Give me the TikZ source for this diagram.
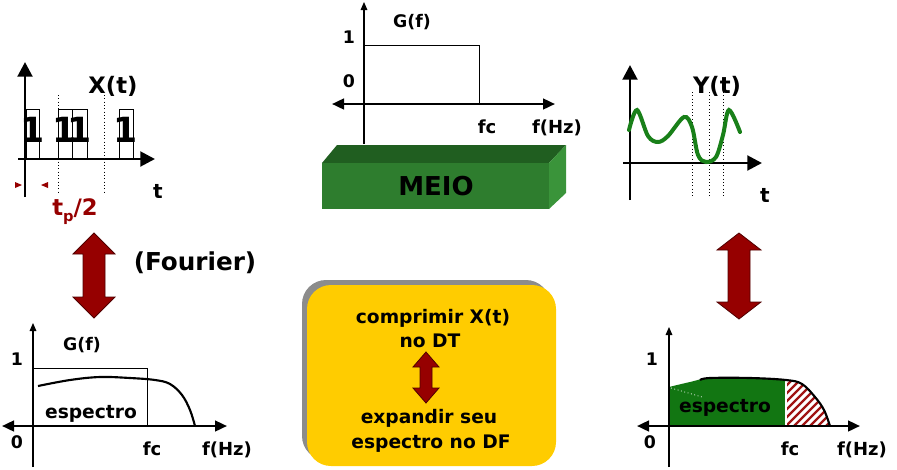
\documentclass[tikz,border=0pt]{standalone}
\usepackage{fontspec}
\setmainfont{DejaVu Sans}
\usetikzlibrary{arrows.meta}
\definecolor{dred}{RGB}{150,0,0}
\definecolor{dredb}{RGB}{80,0,0}
\definecolor{meiofront}{RGB}{46,125,46}
\definecolor{meiotop}{RGB}{32,94,32}
\definecolor{meioside}{RGB}{58,148,58}
\definecolor{curvegreen}{RGB}{25,128,25}
\definecolor{specgreen}{RGB}{18,118,18}
\definecolor{boxyellow}{RGB}{255,204,0}
\definecolor{shadowgray}{RGB}{140,140,140}
\definecolor{hatchred}{RGB}{160,20,20}
\begin{document}
\begin{tikzpicture}[x=0.75pt,y=-0.75pt,
  txt/.style={font=\bfseries\fontsize{#1}{#1}\selectfont, inner sep=0pt, anchor=base},
  thickax/.style={line width=2.2pt, -{Triangle[length=11pt,width=11pt]}},
  medax/.style={line width=1.8pt, {Triangle[length=9pt,width=8pt]}-{Triangle[length=9pt,width=8pt]}},
  thinax/.style={line width=0.8pt, -{Triangle[length=6pt,width=5pt]}},
  thinbox/.style={draw=black, line width=0.6pt},
  dotline/.style={line width=0.5pt, dotted},
  bigarrow/.style={fill=dred, draw=dredb, line width=0.6pt},
  redtri/.style={fill=dred, draw=none}
]
\useasboundingbox (0,0) rectangle (897,469);

% ---------- X(t) panel ----------
\coordinate (xo1) at (25,197); \coordinate (xo2) at (25,62);
\coordinate (xh1) at (18,159); \coordinate (xh2) at (155,159);
\draw[dotline] (58,95) -- (58,193);
\draw[dotline] (104,95) -- (104,193);
\draw[thinbox] (26,109) rectangle (39,159);
\draw[thinbox] (58,109) rectangle (72,159);
\draw[thinbox] (72,109) rectangle (87,159);
\draw[thinbox] (119,109) rectangle (133,159);
\node[txt=26] (one1) at (32.5,142) {1};
\node[txt=26] (one2) at (65,142) {1};
\node[txt=26] (one3) at (79.5,142) {1};
\node[txt=26] (one4) at (126,142) {1};
\draw[thickax] (xo1) -- (xo2);
\draw[thickax] (xh1) -- (xh2);
\node[txt=17] (xt) at (113,93) {X(t)};
\node[txt=15] (xtt) at (158,198) {t};
\fill[redtri] (15,182) -- (22,185) -- (15,188) -- cycle;
\fill[redtri] (48,182) -- (41,185) -- (48,188) -- cycle;
\node[txt=17, text=dred] (tp) at (75,215) {t\raisebox{-0.3em}{\fontsize{11}{11}\selectfont p}/2};

% ---------- G(f) top ----------
\draw[thinax] (364,144) -- (364,2);
\draw[medax] (332,104) -- (555,104);
\draw[thinbox] (364,104) -- (364,45) -- (479,45) -- (479,104);
\node[txt=13] (gf1) at (412,27) {G(f)};
\node[txt=13] (g1) at (349,43) {1};
\node[txt=13] (g0) at (349,87) {0};
\node[txt=13.5] (gfc) at (487,133) {fc};
\node[txt=13.5] (ghz) at (557,133) {f(Hz)};

% ---------- MEIO box ----------
\fill[meiotop] (322,163) -- (549,163) -- (566,145) -- (337,145) -- cycle;
\fill[meioside] (549,163) -- (566,145) -- (566,193) -- (549,209) -- cycle;
\fill[meiofront] (322,163) rectangle (549,209);
\node[txt=19.5] (meio) at (436,195) {MEIO};

% ---------- Y(t) panel ----------
\draw[dotline] (692,92) -- (692,198);
\draw[dotline] (709,92) -- (709,198);
\draw[dotline] (723,92) -- (723,198);
\draw[thickax] (630,200) -- (630,65);
\draw[thickax] (623,163) -- (762,163);
\draw[curvegreen, line width=3pt, line cap=round] plot[smooth, tension=0.55] coordinates
  {(629,130) (637,110) (648,136) (658,142) (668,136) (684,117) (692,127) (698,155) (706,162) (716,157) (723,135) (729,110) (740,132)};
\node[txt=17] (yt) at (717,93) {Y(t)};
\node[txt=15] (ytt) at (765,202) {t};

% ---------- big arrows ----------
\draw[bigarrow] (94,233) -- (115,254) -- (105,254) -- (105,297) -- (115,297) -- (94,318) -- (73,297) -- (83,297) -- (83,254) -- (73,254) -- cycle;
\node[txt=18.5] (fourier) at (195,270) {(Fourier)};
\draw[bigarrow] (739,233) -- (761,250) -- (750,250) -- (750,302) -- (761,302) -- (739,319) -- (717,302) -- (728,302) -- (728,250) -- (717,250) -- cycle;

% ---------- bottom-left spectrum ----------
\draw[thinax] (33,467) -- (33,323);
\draw[medax] (2,426) -- (227,426);
\draw[thinbox] (33,368) rectangle (147,426);
\draw[line width=1.6pt] plot[smooth, tension=0.6] coordinates
  {(38,386) (70,380) (100,377) (130,378) (155,380) (170,384) (182,395) (190,410) (195,426)};
\node[txt=13] (bgf) at (82,350) {G(f)};
\node[txt=13] (b1) at (17,365) {1};
\node[txt=14] (besp) at (91,418) {espectro};
\node[txt=13] (b0) at (17,448) {0};
\node[txt=13.5] (bfc) at (152,455) {fc};
\node[txt=13.5] (bhz) at (227,455) {f(Hz)};

% ---------- yellow box ----------
\fill[shadowgray, rounded corners=18pt] (302,280) rectangle (550,460);
\fill[boxyellow, rounded corners=18pt] (307,285) rectangle (556,466);
\node[txt=14] (c1) at (433,323) {comprimir X(t)};
\node[txt=14] (c2) at (430,347) {no DT};
\draw[bigarrow] (426,352) -- (439,367) -- (432,367) -- (432,388) -- (439,388) -- (426,403) -- (413,388) -- (420,388) -- (420,367) -- (413,367) -- cycle;
\node[txt=14] (c3) at (429,423) {expandir seu};
\node[txt=14] (c4) at (431,448) {espectro no DF};

% ---------- bottom-right spectrum ----------
\begin{scope}
  \clip (669,426) -- plot[smooth, tension=0.6] coordinates
    {(669,387) (690,382) (710,378) (750,378) (786,380) (802,384) (815,397) (824,410) (830,426)} -- cycle;
  \fill[specgreen] (665,370) rectangle (786,430);
  \begin{scope}
    \clip (786,370) rectangle (840,430);
    \foreach \i in {740,748,...,840} \draw[hatchred, line width=1.8pt] (\i,432) -- (\i+64,368);
  \end{scope}
\end{scope}
\draw[white, line width=0.8pt] (786,381) -- (786,426);
\draw[white, dotted, line width=0.6pt] (671,388) -- (702,397);
\draw[line width=1.6pt] plot[smooth, tension=0.6] coordinates
  {(700,380) (710,378) (750,378) (786,380) (802,384) (815,397) (824,410) (830,426)};
\draw[thinax] (669,467) -- (669,327);
\draw[medax] (637,426) -- (860,426);
\node[txt=13] (r1) at (652,365) {1};
\node[txt=14] (resp) at (725,412) {espectro};
\node[txt=13] (r0) at (650,448) {0};
\node[txt=13.5] (rfc) at (790,455) {fc};
\node[txt=13.5] (rhz) at (862,455) {f(Hz)};
\end{tikzpicture}
\end{document}
